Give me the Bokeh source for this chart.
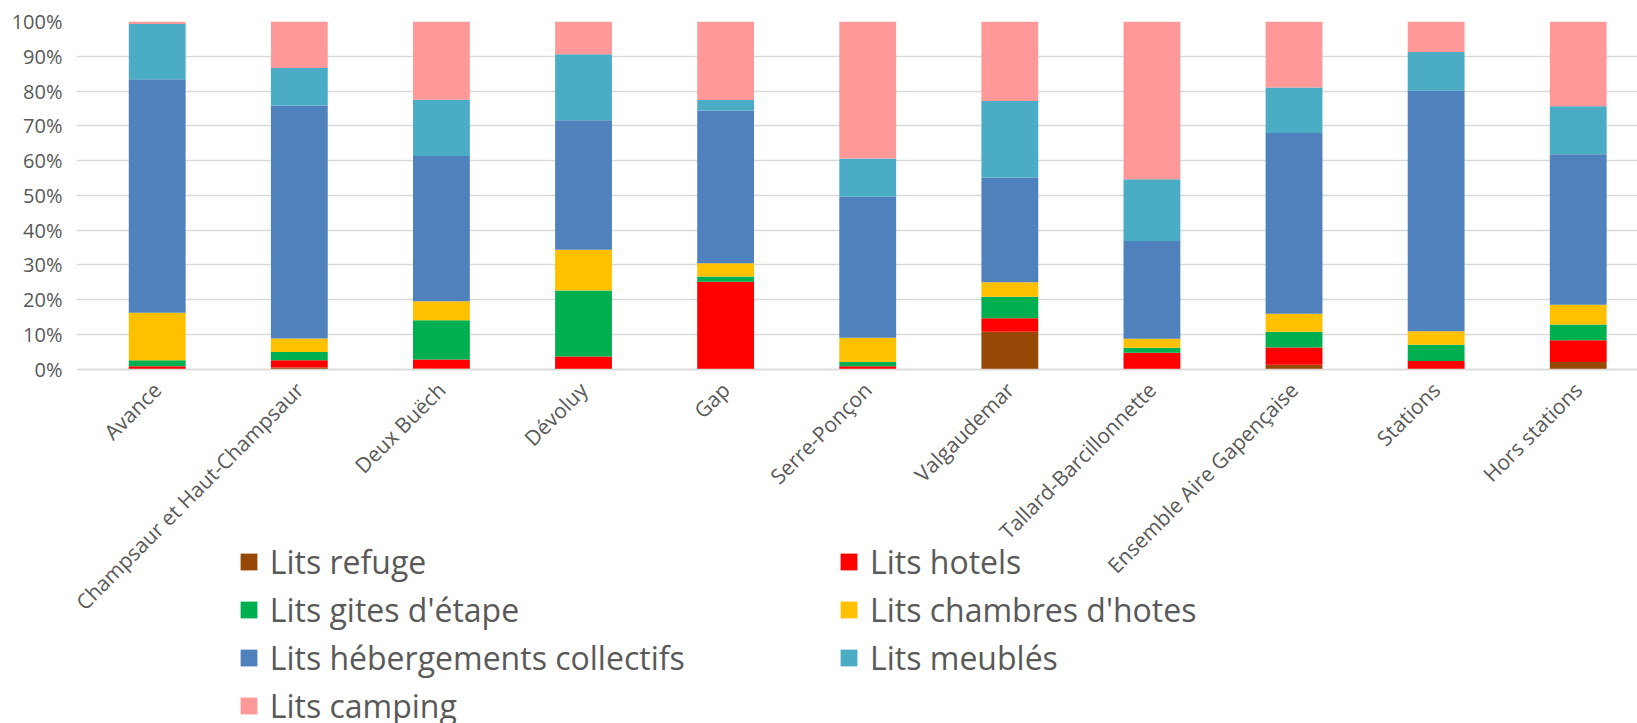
import math
from bokeh.plotting import figure
from bokeh.models import ColumnDataSource, Range1d, FixedTicker, PrintfTickFormatter, Legend, LegendItem
from bokeh.embed import file_html
from bokeh.resources import INLINE

categories = ["Avance", "Champsaur et Haut-Champsaur", "Deux Buëch", "Dévoluy", "Gap",
              "Serre-Ponçon", "Valgaudemar", "Tallard-Barcillonnette",
              "Ensemble Aire Gapençaise", "Stations", "Hors stations"]

# shares in percent, bottom to top of each bar
refuge     = [0.0, 0.4, 0.1, 0.0, 0.0, 0.0, 10.7, 0.0, 1.2, 0.0, 2.0]
hotels     = [0.8, 2.1, 2.6, 3.6, 25.1, 0.8, 3.9, 4.7, 5.0, 2.3, 6.3]
gites      = [1.7, 2.4, 11.3, 19.0, 1.5, 1.2, 6.2, 1.4, 4.5, 4.7, 4.5]
chambres   = [13.7, 3.9, 5.5, 11.7, 3.8, 7.0, 4.2, 2.6, 5.2, 3.9, 5.7]
collectifs = [67.2, 67.0, 41.8, 37.3, 44.0, 40.6, 30.1, 28.1, 52.0, 69.2, 43.3]
meubles    = [15.9, 10.8, 16.2, 19.0, 3.0, 11.0, 22.0, 17.8, 13.1, 11.1, 13.8]
camping    = [0.7, 13.4, 22.5, 9.4, 22.6, 39.4, 22.9, 45.4, 19.0, 8.8, 24.4]

series_names = ["Lits refuge", "Lits hotels", "Lits gites d'étape", "Lits chambres d'hotes",
                "Lits hébergements collectifs", "Lits meublés", "Lits camping"]
series_keys = ["refuge", "hotels", "gites", "chambres", "collectifs", "meubles", "camping"]
colors = ["#974706", "#FF0000", "#00B050", "#FFC000", "#4F81BD", "#4BACC6", "#FF9999"]

y_ticks = [0, 10, 20, 30, 40, 50, 60, 70, 80, 90, 100]

FONT = "Open Sans"
TXT = "#595959"
GRID = "#D9D9D9"

xpos = list(range(len(categories)))
source = ColumnDataSource(dict(x=xpos, refuge=refuge, hotels=hotels, gites=gites,
                               chambres=chambres, collectifs=collectifs,
                               meubles=meubles, camping=camping))

# frame spans down to the bottom of the page; the 0-100 % band occupies its top part
p = figure(width=1637, height=723, output_backend="svg", toolbar_location=None,
           x_range=Range1d(-0.568, 10.417), y_range=Range1d(-102.01, 100),
           min_border_left=76, min_border_right=0, min_border_top=21, min_border_bottom=0)
p.outline_line_color = None
p.background_fill_color = "white"
p.border_fill_color = "white"

renderers = p.vbar_stack(series_keys, x="x", width=0.4, color=colors, source=source,
                         line_color=None)

p.xgrid.grid_line_color = None
p.ygrid.grid_line_color = GRID
p.ygrid.grid_line_width = 1.5
p.ygrid.ticker = FixedTicker(ticks=y_ticks)

p.yaxis.ticker = FixedTicker(ticks=y_ticks)
p.yaxis.formatter = PrintfTickFormatter(format="%d%%")
p.yaxis.axis_line_color = None
p.yaxis.major_tick_line_color = None
p.yaxis.minor_tick_line_color = None
p.yaxis.major_tick_out = 0
p.yaxis.major_label_standoff = 14
p.yaxis.major_label_text_font = FONT
p.yaxis.major_label_text_font_size = "20px"
p.yaxis.major_label_text_color = TXT

p.xaxis.fixed_location = 0
p.xaxis.ticker = FixedTicker(ticks=xpos)
p.xaxis.major_label_overrides = {i: c for i, c in enumerate(categories)}
p.xaxis.major_label_orientation = math.pi / 4
p.xaxis.axis_line_color = GRID
p.xaxis.axis_line_width = 1.5
p.xaxis.major_tick_line_color = None
p.xaxis.minor_tick_line_color = None
p.xaxis.major_tick_out = 0
p.xaxis.major_tick_in = 0
p.xaxis.major_label_standoff = 17
p.xaxis.major_label_text_font = FONT
p.xaxis.major_label_text_font_size = "21px"
p.xaxis.major_label_text_color = TXT

def make_legend(idx, loc):
    lg = Legend(items=[LegendItem(label=series_names[i], renderers=[renderers[i]]) for i in idx],
                location=loc, orientation="vertical")
    lg.padding = 0
    lg.margin = 0
    lg.border_line_color = None
    lg.background_fill_alpha = 0
    lg.glyph_width = 21
    lg.glyph_height = 21
    lg.label_standoff = 11
    lg.label_height = 44
    lg.spacing = 4
    lg.label_text_font = FONT
    lg.label_text_font_size = "32px"
    lg.label_text_color = TXT
    lg.click_policy = "none"
    return lg

p.add_layout(make_legend([0, 2, 4, 6], (161.7, -4.5)), "center")
p.add_layout(make_legend([1, 3, 5], (762, 43.5)), "center")

open("out.html", "w").write(file_html(p, INLINE))
